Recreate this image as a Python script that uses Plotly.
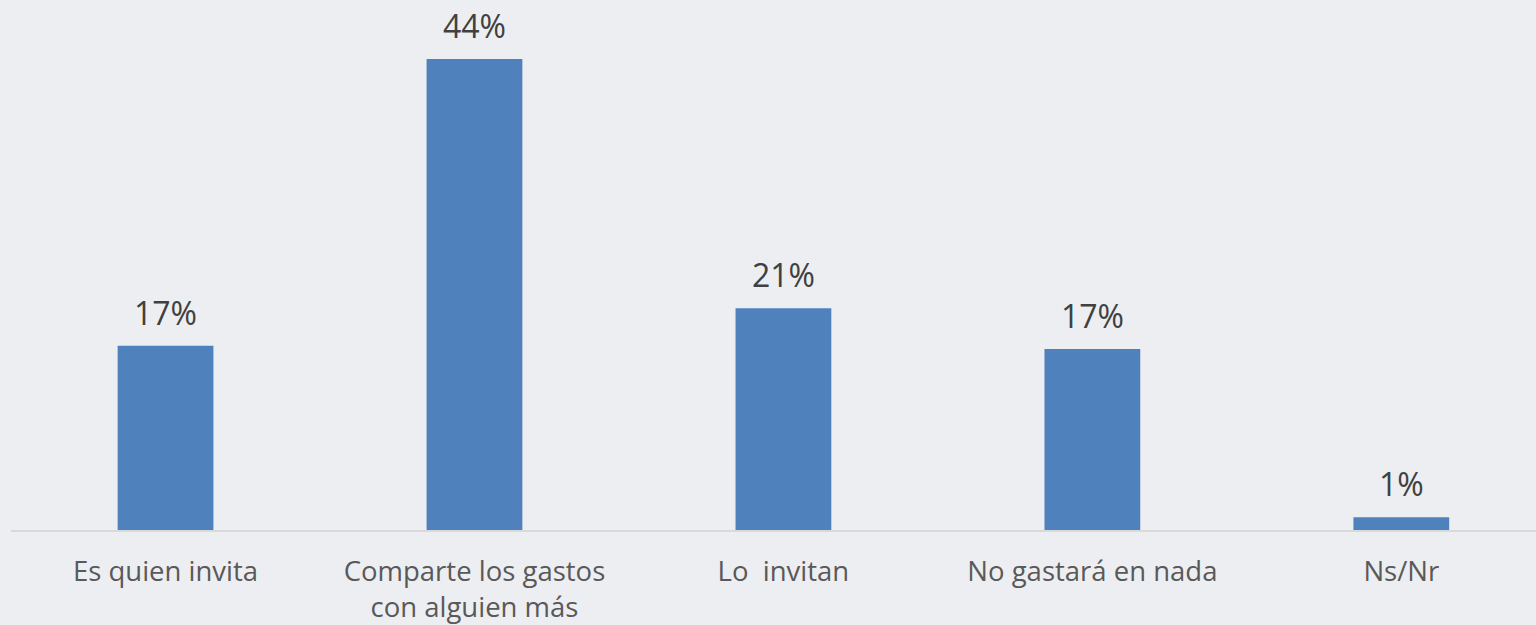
import plotly.graph_objects as go

categories = ["Es quien invita", "Comparte los gastos<br>con alguien más", "Lo\u00a0 invitan", "No gastará en nada", "Ns/Nr"]
values = [17.2, 44.0, 20.7, 16.9, 1.2]
labels = ["17%", "44%", "21%", "17%", "1%"]

xs = list(range(len(categories)))
fig = go.Figure(go.Bar(
    x=xs, y=values,
    marker=dict(color="#4F81BD", line=dict(width=0)),
    width=0.31, hoverinfo="skip",
))
for x, v, t in zip(xs, values, labels):
    fig.add_annotation(x=x, y=v, text=t, showarrow=False, yanchor="bottom",
                       yshift=10, font=dict(family="Open Sans", size=32, color="#404040"))
fig.update_layout(
    width=1536, height=625,
    margin=dict(l=0, r=0, t=0, b=95),
    paper_bgcolor="#EDEEF1", plot_bgcolor="#EDEEF1",
    showlegend=False,
    xaxis=dict(
        domain=[0.0072, 1], range=[-0.5, 4.436],
        tickmode="array", tickvals=xs, ticktext=categories,
        showgrid=False, zeroline=False, showline=True, linecolor="#D9D9D9", linewidth=2,
        ticks="", ticklabelstandoff=16,
        tickfont=dict(family="Open Sans", size=27.5, color="#595959"),
    ),
    yaxis=dict(range=[0, 49.5], visible=False, showgrid=False, zeroline=False),
)
fig.write_html("out.html", config={"displayModeBar": False},
               post_script="document.body.style.margin='0';document.body.style.background='#EDEEF1';")
